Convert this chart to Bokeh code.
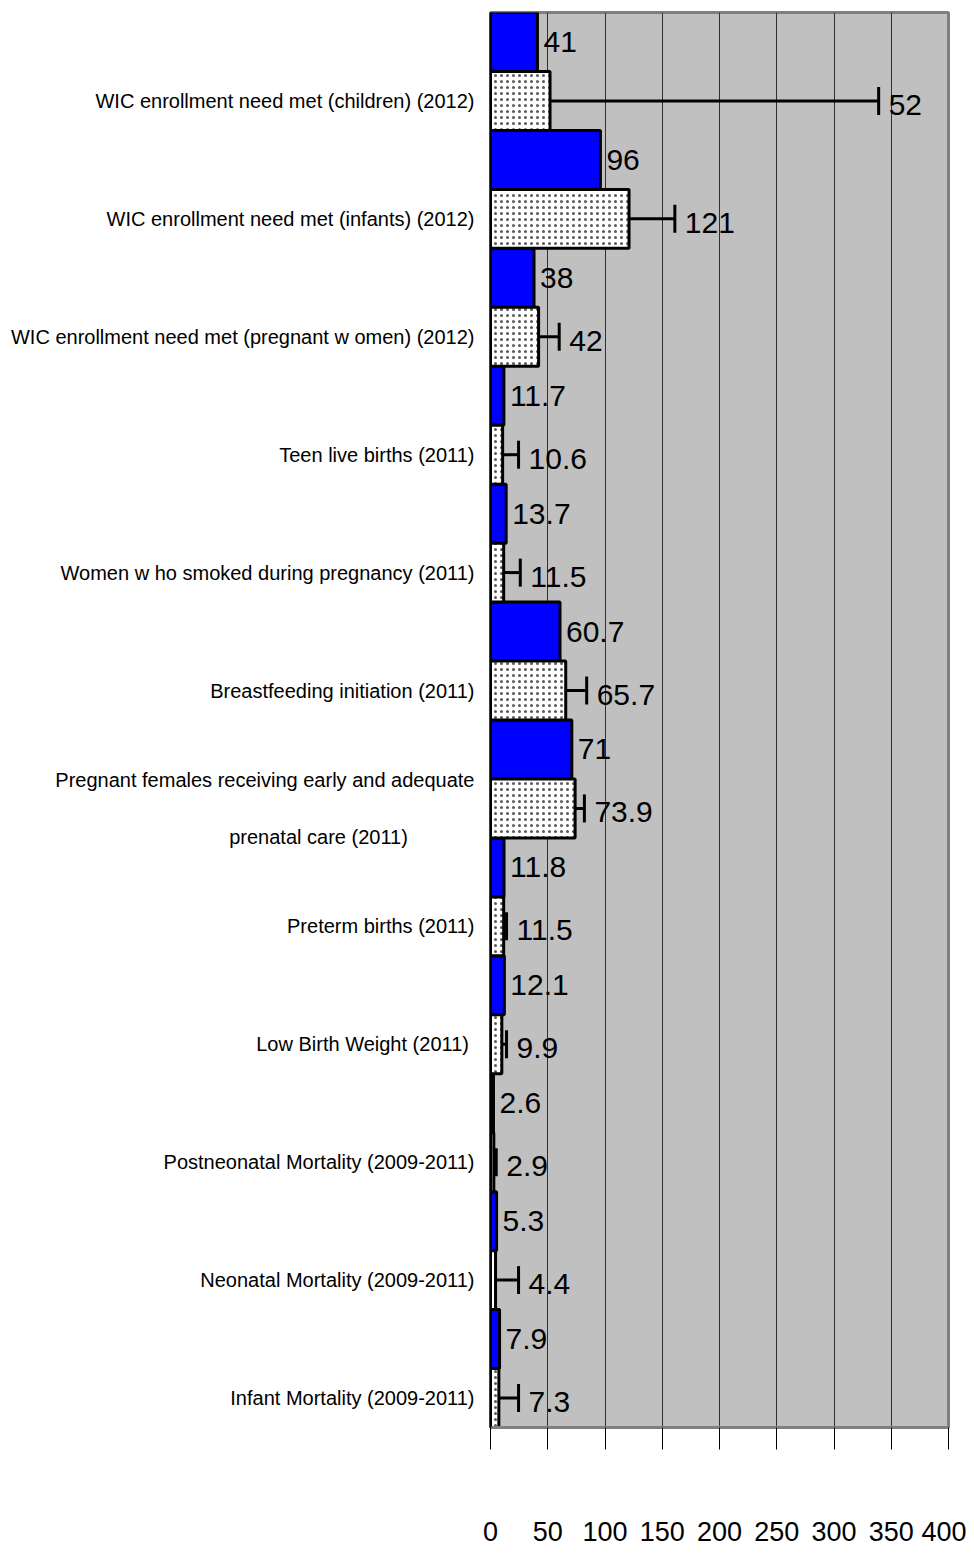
from bokeh.plotting import figure
from bokeh.models import Range1d, FixedTicker, ColumnDataSource, Whisker, TeeHead
from bokeh.core.properties import value
from bokeh.embed import file_html
from bokeh.resources import INLINE

categories = [
    "WIC enrollment need met (children) (2012)",
    "WIC enrollment need met (infants) (2012)",
    "WIC enrollment need met (pregnant w omen) (2012)",
    "Teen live births (2011)",
    "Women w ho smoked during pregnancy (2011)",
    "Breastfeeding initiation (2011)",
    "Pregnant females receiving early and adequate\nprenatal care (2011)",
    "Preterm births (2011)",
    "Low  Birth Weight (2011)",
    "Postneonatal Mortality (2009-2011)",
    "Neonatal Mortality (2009-2011)",
    "Infant Mortality (2009-2011)",
]
series_a = [41, 96, 38, 11.7, 13.7, 60.7, 71, 11.8, 12.1, 2.6, 5.3, 7.9]
series_b = [52, 121, 42, 10.6, 11.5, 65.7, 73.9, 11.5, 9.9, 2.9, 4.4, 7.3]
series_b_lower = [0, 0, 0, 6, 3, 29, 52, 6, 6, 0.5, 1.5, 1.5]
series_b_upper = [339, 161, 60, 24.5, 26, 84, 82, 14, 14, 5, 24.5, 24.5]
x_ticks = [0, 50, 100, 150, 200, 250, 300, 350, 400]

FONT = "Liberation Sans"

n = len(categories)
pos = [n - 1 - i for i in range(n)]
pos_top = [q + 0.25 for q in pos]
pos_bot = [q - 0.25 for q in pos]

src = ColumnDataSource(dict(
    pos_top=pos_top,
    pos_bot=pos_bot,
    a=series_a,
    b=series_b,
    lower=series_b_lower,
    upper=series_b_upper,
    a_lbl=[f"{v:g}" for v in series_a],
    b_lbl=[f"{v:g}" for v in series_b],
    b_lbl_x=[max(v, u) for v, u in zip(series_b, series_b_upper)],
))

p = figure(width=966, height=1548, x_range=Range1d(0, 400), y_range=Range1d(-0.5, n - 0.5),
           output_backend="svg", toolbar_location=None,
           min_border_left=490, min_border_right=18, min_border_top=12, min_border_bottom=121,
           background_fill_color="#C0C0C0", border_fill_color="white")

p.outline_line_color = "#808080"
p.outline_line_width = 3

p.xgrid.grid_line_color = "#303030"
p.xgrid.grid_line_width = 1
p.ygrid.grid_line_color = None

p.hbar(y="pos_top", left=0, right="a", height=0.5, fill_color="#0000FF",
       line_color="black", line_width=3, source=src)
p.hbar(y="pos_bot", left=0, right="b", height=0.5, fill_color="white",
       line_color="black", line_width=3, hatch_pattern="dot", hatch_color="black",
       hatch_scale=6, hatch_weight=0.6, hatch_alpha=0.65, source=src)

w = Whisker(base="pos_bot", lower="lower", upper="upper", dimension="width", source=src,
            line_color="black", line_width=3,
            upper_head=TeeHead(size=28, line_width=3, line_color="black"),
            lower_head=TeeHead(size=28, line_width=3, line_color="black"))
p.add_layout(w)

p.text(x="a", y="pos_top", text="a_lbl", x_offset=6, text_baseline="middle",
       text_font=value(FONT), text_font_size="30px", text_color="black", source=src)
p.text(x="b_lbl_x", y="pos_bot", text="b_lbl", x_offset=10, y_offset=4, text_baseline="middle",
       text_font=value(FONT), text_font_size="30px", text_color="black", source=src)

xa = p.xaxis[0]
xa.ticker = FixedTicker(ticks=x_ticks)
xa.major_tick_out = 22
xa.major_tick_in = 0
xa.minor_tick_line_color = None
xa.axis_line_color = "#808080"
xa.axis_line_width = 3
xa.major_tick_line_color = "black"
xa.major_tick_line_width = 1
xa.major_label_standoff = 72
xa.major_label_text_font = FONT
xa.major_label_text_font_size = "27px"
xa.major_label_text_color = "black"


def centred(label, pad_per_char=0.5):
    # right-aligned multi-line tick labels: pad shorter lines with no-break
    # spaces so that the lines look centred on each other
    lines = label.split("\n")
    if len(lines) == 1:
        return label
    longest = max(len(s) for s in lines)
    return "\n".join(s + "\u00a0" * int(round((longest - len(s)) * pad_per_char * 0.95))
                     for s in lines)


ya = p.yaxis[0]
ya.ticker = FixedTicker(ticks=pos_bot)
ya.major_label_overrides = {q: centred(c) for q, c in zip(pos_bot, categories)}
ya.major_tick_out = 0
ya.major_tick_in = 0
ya.minor_tick_line_color = None
ya.axis_line_color = "black"
ya.axis_line_width = 2
ya.major_label_standoff = 16
ya.major_label_text_font = FONT
ya.major_label_text_font_size = "20px"
ya.major_label_text_line_height = 2.6
ya.major_label_text_color = "black"

open("out.html", "w").write(file_html(p, INLINE))
